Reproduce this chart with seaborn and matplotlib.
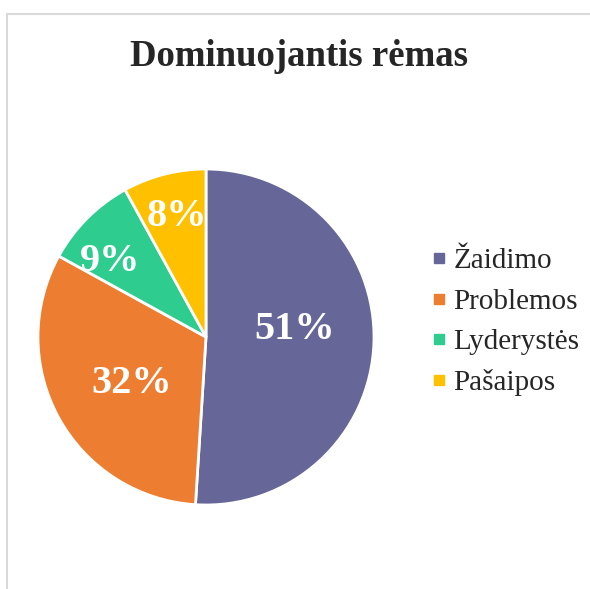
import numpy as np
import seaborn as sns
import matplotlib.pyplot as plt
from matplotlib.lines import Line2D
from matplotlib.patches import Rectangle

# chart data
categories = ["Žaidimo", "Problemos", "Lyderystės", "Pašaipos"]
shares = [51, 32, 9, 8]
colors = ["#666699", "#ED7D31", "#2ECC8F", "#FFC000"]
title = "Dominuojantis rėmas"

sns.set_theme(style="white")
plt.rcParams["font.family"] = ["Liberation Serif", "DejaVu Serif"]

W, H = 590, 589
fig = plt.figure(figsize=(W / 100, H / 100), dpi=100)

# pie axes: centre (206, 337) px, radius 168 px
cx, cy, r = 206, 337, 168
ax = fig.add_axes([(cx - r) / W, (H - cy - r) / H, 2 * r / W, 2 * r / H])
wedges, _ = ax.pie(shares, colors=colors, startangle=90, counterclock=False,
                   wedgeprops=dict(edgecolor="white", linewidth=2))
ax.set_xlim(-1, 1)
ax.set_ylim(-1, 1)
ax.set_aspect("equal")
ax.axis("off")

# percentage labels at mid angle of each wedge, nudged like Excel "best fit"
label_r = [0.53, 0.51, 0.74, 0.76]
label_dx = [0.0, 0.007, -0.048, 0.016]
label_dy = [0.064, -0.034, -0.071, -0.016]
for w, v, lr, dx, dy in zip(wedges, shares, label_r, label_dx, label_dy):
    mid = np.deg2rad((w.theta1 + w.theta2) / 2)
    ax.text(lr * np.cos(mid) + dx, lr * np.sin(mid) + dy, f"{v}%",
            color="white", fontsize=29, fontweight="bold",
            ha="center", va="center")

fig.text(0.5 + 4 / W, 1 - 57 / H, title, fontsize=26.5, fontweight="bold",
         ha="center", va="center")

handles = [Line2D([], [], marker="s", linestyle="none", markersize=7,
                  markerfacecolor=c, markeredgecolor=c) for c in colors]
fig.legend(handles, categories, loc="center left",
           bbox_to_anchor=(430 / W, 1 - 322 / H), frameon=False,
           fontsize=21, handlelength=0.6, handletextpad=0.2,
           labelspacing=0.48, borderpad=0, borderaxespad=0)

# light chart-area border (top and left visible)
fig.patches.append(Rectangle((7 / W, -0.1), 1.2, 1 - 14 / H + 0.1,
                             transform=fig.transFigure, fill=False,
                             edgecolor="#D9D9D9", linewidth=1.5))

fig.savefig("out.png", dpi=100, facecolor="white")
